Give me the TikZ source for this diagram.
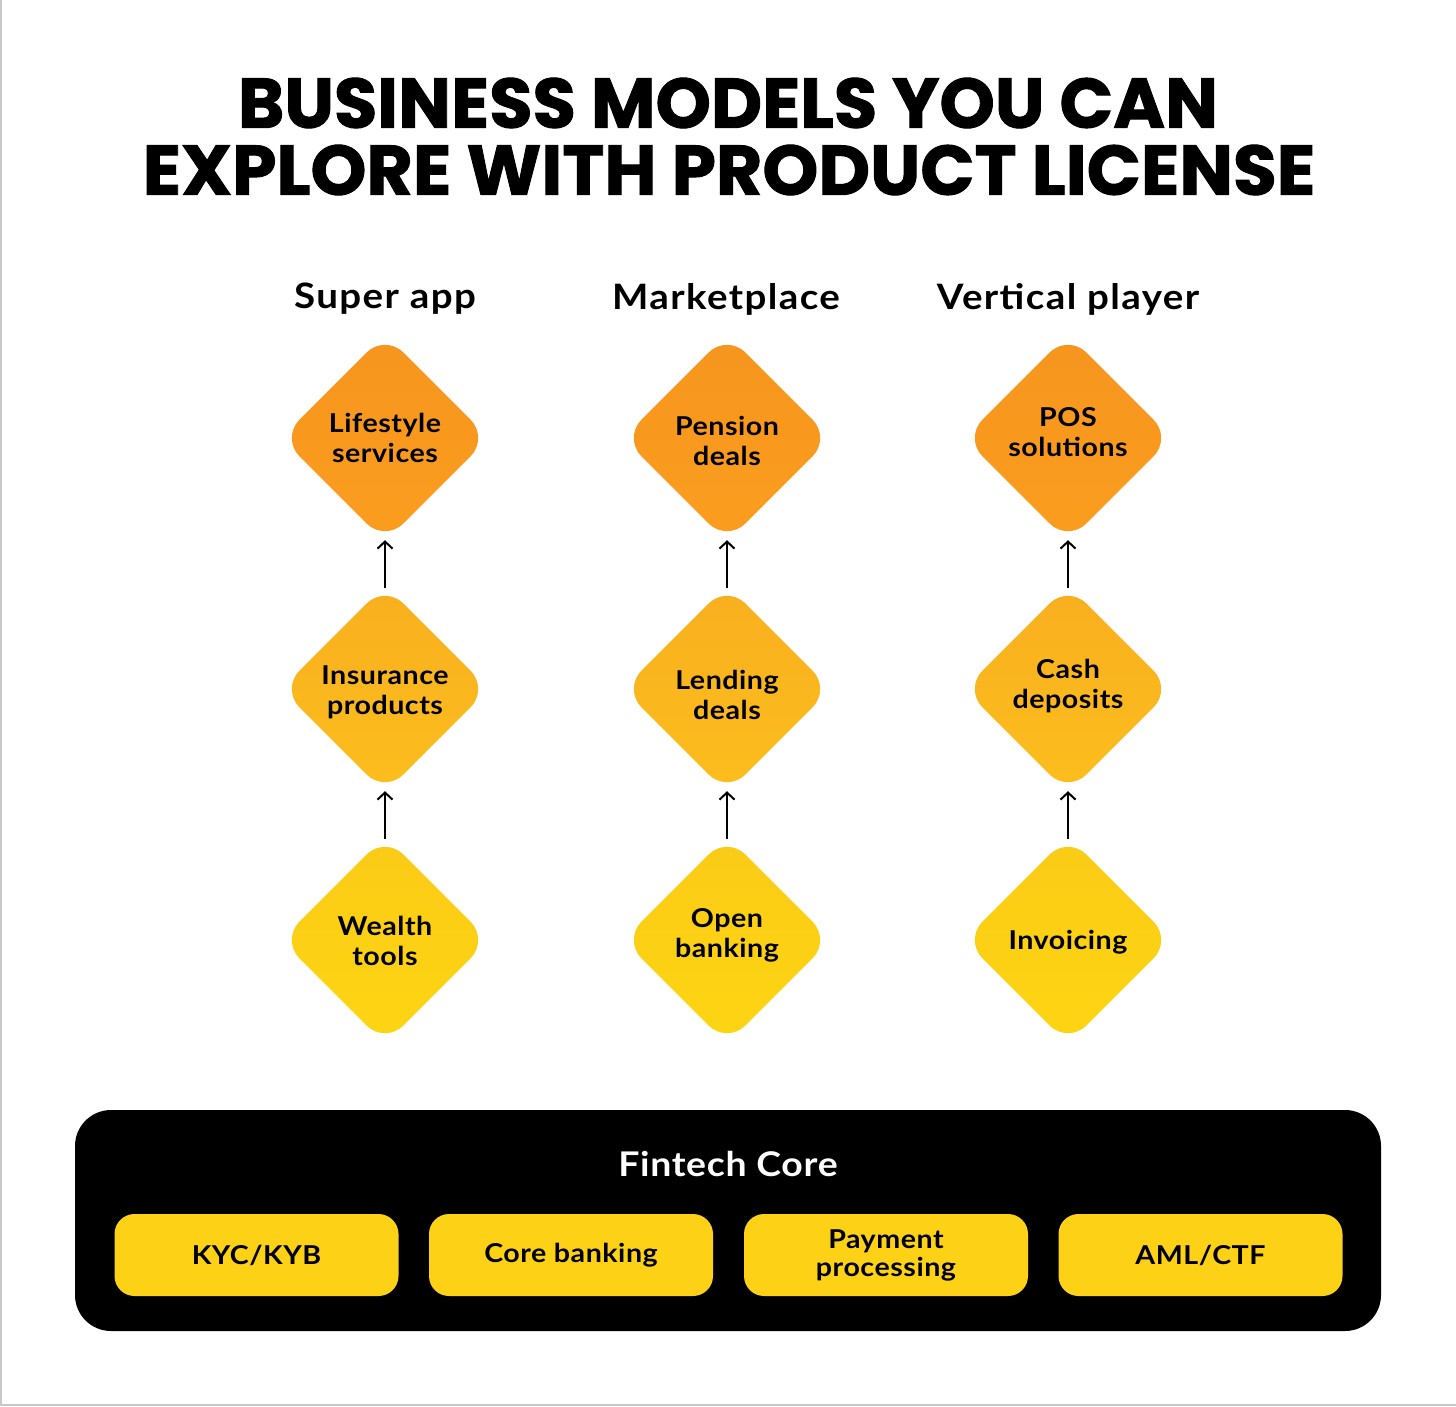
\documentclass[tikz,border=0pt]{standalone}
\usepackage{fontspec}
\setmainfont{Lato}[FakeStretch=1.1, LetterSpace=2]
\newfontfamily\headfont{Lato}[FakeStretch=1.1, LetterSpace=4]
\newfontfamily\titlefont{Poppins}[BoldFeatures={FakeBold=1.3}]
\usetikzlibrary{shapes.geometric,arrows.meta}
\definecolor{cOrange}{HTML}{F7951E}
\definecolor{cOrangeB}{HTML}{FA9E1F}
\definecolor{cAmber}{HTML}{F9AF1F}
\definecolor{cAmberB}{HTML}{FCBE1D}
\definecolor{cYellow}{HTML}{FBCB17}
\definecolor{cYellowB}{HTML}{FDD512}
\definecolor{cBoxY}{HTML}{FCD116}
\definecolor{cEdge}{HTML}{C8C8C8}
\tikzset{
  dia/.style={diamond, minimum width=208pt, minimum height=208pt, inner sep=0pt, rounded corners=26pt, draw=none},
  diaTop/.style={dia, top color=cOrange, bottom color=cOrangeB},
  diaMid/.style={dia, top color=cAmber, bottom color=cAmberB},
  diaLow/.style={dia, top color=cYellow, bottom color=cYellowB},
  dtext/.style={align=center, text=black, font=\fontsize{26}{30}\selectfont\bfseries, inner sep=0pt},
  head/.style={text=black, font=\headfont\fontsize{35}{40}\selectfont\bfseries, inner sep=0pt},
  arr/.style={draw=black, line width=2pt, -{Straight Barb[length=7pt,width=15pt,line width=2pt]}, shorten <=-3pt, shorten >=-2pt},
  coreBox/.style={fill=black, rounded corners=36pt, minimum width=1306pt, minimum height=221pt, inner sep=0pt},
  modBox/.style={fill=cBoxY, rounded corners=20pt, minimum width=284pt, minimum height=82pt, inner sep=0pt},
  mtext/.style={align=center, text=black, font=\fontsize{26}{28}\selectfont\bfseries, inner sep=0pt},
}
\begin{document}
\begin{tikzpicture}[x=1pt,y=-1pt]
\useasboundingbox[fill=white] (0,0) rectangle (1456,1406);
\draw[cEdge, line width=2pt] (1,0) -- (1,1405) -- (1456,1405);

% title
\node[inner sep=0pt] (t1) at (728,103) {\resizebox{980pt}{50pt}{\titlefont\bfseries BUSINESS MODELS YOU CAN}};
\node[inner sep=0pt] (t2) at (729,170) {\resizebox{1172pt}{50pt}{\titlefont\bfseries EXPLORE WITH PRODUCT LICENSE}};

% headers
\node[head] (h1) at (385,299) {Super app};
\node[head] (h2) at (726,299) {Marketplace};
\node[head] (h3) at (1068,299) {Vertical player};

% column 1
\node[diaTop] (a1) at (385,438) {};
\node[diaMid] (b1) at (385,689) {};
\node[diaLow] (c1) at (385,940) {};
\node[dtext] (a1t) at (a1) {Lifestyle\\services};
\node[dtext] (b1t) at ([yshift=-3pt]b1) {Insurance\\products};
\node[dtext] (c1t) at ([yshift=-1pt]c1) {Wealth\\tools};

% column 2
\node[diaTop] (a2) at (727,438) {};
\node[diaMid] (b2) at (727,689) {};
\node[diaLow] (c2) at (727,940) {};
\node[dtext] (a2t) at ([yshift=-2.5pt]a2) {Pension\\deals};
\node[dtext] (b2t) at ([yshift=-6pt]b2) {Lending\\deals};
\node[dtext] (c2t) at ([yshift=5pt]c2) {Open\\banking};

% column 3
\node[diaTop] (a3) at (1068,438) {};
\node[diaMid] (b3) at (1068,689) {};
\node[diaLow] (c3) at (1068,940) {};
\node[dtext] (a3t) at ([yshift=6pt]a3) {POS\\solutions};
\node[dtext] (b3t) at ([yshift=2.5pt]b3) {Cash\\deposits};
\node[dtext] (c3t) at ([yshift=-2pt]c3) {Invoicing};

% arrows
\draw[arr] (b1.north) -- (a1.south);
\draw[arr] (c1.north) -- (b1.south);
\draw[arr] (b2.north) -- (a2.south);
\draw[arr] (c2.north) -- (b2.south);
\draw[arr] (b3.north) -- (a3.south);
\draw[arr] (c3.north) -- (b3.south);

% fintech core
\node[coreBox] (core) at (728,1220.5) {};
\node[text=white, font=\fontsize{34}{40}\selectfont\bfseries, inner sep=0pt] (coreT) at (728,1164) {Fintech Core};
\node[modBox] (m1) at (256.5,1255) {};
\node[modBox] (m2) at (571,1255) {};
\node[modBox] (m3) at (886,1255) {};
\node[modBox] (m4) at (1200.5,1255) {};
\node[mtext] (m1t) at (m1) {KYC/KYB};
\node[mtext] (m2t) at (m2) {Core banking};
\node[mtext] (m3t) at (m3) {Payment\\processing};
\node[mtext] (m4t) at (m4) {AML/CTF};
\end{tikzpicture}
\end{document}
